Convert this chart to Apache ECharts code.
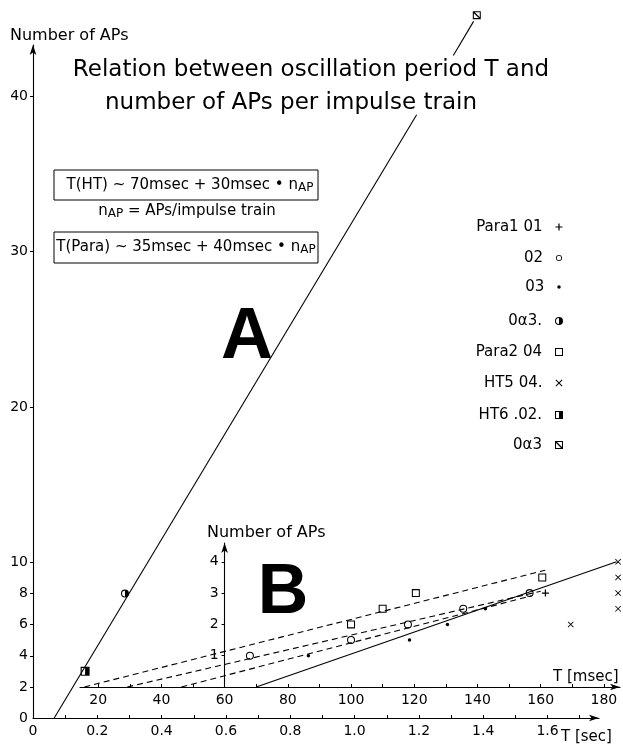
<!DOCTYPE html>
<html><head><meta charset="utf-8">
<script src="https://cdn.jsdelivr.net/npm/echarts@6/dist/echarts.min.js"></script>
<style>html,body{margin:0;padding:0;background:#fff}#c{width:623px;height:746px}</style>
</head><body><div id="c"></div>
<script>
// ---------------- data ----------------
const mainXLabels = [0, 0.2, 0.4, 0.6, 0.8, 1.0, 1.2, 1.4, 1.6];
const mainXTicks = [0.1, 0.2, 0.3, 0.4, 0.5, 0.6, 0.7, 0.8, 0.9, 1.0, 1.1, 1.2, 1.3, 1.4, 1.5, 1.6, 1.7];
const mainYLabels = [0, 2, 4, 6, 8, 10, 20, 30, 40];
const insetXLabels = [20, 40, 60, 80, 100, 120, 140, 160, 180];
const insetXTicks = [20, 30, 40, 50, 60, 70, 80, 90, 100, 110, 120, 130, 140, 150, 160, 170, 180];
const insetYLabels = [1, 2, 3, 4];

// panel A (T in sec, number of APs)
const lineALower = [[0.066, 0], [1.193, 38.8]];
const lineAUpper = [[1.307, 42.6], [1.37, 44.8]];
const oa3Half = [[0.286, 8]];
const ht6_02 = [[0.162, 3]];
const oa3Hatch = [[1.38, 45.2]];

// panel B (T in msec, number of APs)
const para1_01 = [[161.5, 3.0]];
const s02 = [[68, 1.0], [100, 1.5], [118, 2.0], [135.5, 2.5], [156.5, 3.0]];
const s03 = [[86.5, 1.0], [118.5, 1.5], [130.5, 2.0], [142.5, 2.5]];
const para2_04 = [[100, 2.0], [110, 2.5], [120.5, 3.0], [160.5, 3.5]];
const ht5_04 = [[169.5, 2.0], [184.5, 2.5], [184.5, 3.0], [184.5, 3.5], [184.5, 4.0]];
const dashTop = [[15.6, 0], [161.4, 3.73]];
const dashMid = [[29.2, 0], [160, 3.06]];
const dashLow = [[46.3, 0], [157, 2.91]];
const solidHT = [[70, 0], [184, 4.0]];

const legendNames = ['Para1 01', '02', '03', '0\u03b13.', 'Para2 04', 'HT5 04.', 'HT6 .02.', '0\u03b13'];

// ---------------- symbols ----------------
const RING = 'M0 -5A5 5 0 1 1 0 5A5 5 0 1 1 0 -5ZM0 -3.7A3.7 3.7 0 1 0 0 3.7A3.7 3.7 0 1 0 0 -3.7Z';
const SQR = 'M-5 -5H5V5H-5ZM-3.7 -3.7V3.7H3.7V-3.7Z';
const SYM = {
  plus: 'path://M-0.7 -4H0.7V-0.7H4V0.7H0.7V4H-0.7V0.7H-4V-0.7H-0.7Z',
  ring: 'path://' + RING,
  halfRing: 'path://' + RING + 'M0 -3.7A3.7 3.7 0 0 1 0 3.7Z',
  sqRing: 'path://' + SQR,
  halfSq: 'path://M-5 -5H5V5H-5ZM-3.7 -3.7V3.7H0V-3.7Z',
  hatchSq: 'path://' + SQR + 'M-3.7 -3.7H-2.5L3.7 2.5V3.7H2.5L-3.7 -2.5Z',
  cross: 'path://M-4 -5L0 -1L4 -5L5 -4L1 0L5 4L4 5L0 1L-4 5L-5 4L-1 0L-5 -4Z'
};

const FONT = 'DejaVu Sans';
const BLACK = '#000';

function lineSeries(data, xi, dashed) {
  return {
    type: 'line', xAxisIndex: xi, yAxisIndex: xi, data: data, showSymbol: false, symbol: 'none',
    clip: false, silent: true, z: 2,
    lineStyle: { color: BLACK, width: 1.1, type: dashed ? [6, 4] : 'solid' }
  };
}
function scatter(name, data, xi, symbol, size) {
  return {
    type: 'scatter', name: name, xAxisIndex: xi, yAxisIndex: xi, data: data, symbol: symbol,
    symbolSize: size, clip: false, z: 3, itemStyle: { color: BLACK, opacity: 1 }
  };
}

const legendTops = [227, 258, 287, 321, 352, 383, 415, 445];
const legendIcon = [7, 6, 3.5, 8, 8, 7, 8, 8];

const axisLineStyle = { color: BLACK, width: 1.1 };
const subRich = { fontSize: 12, fontFamily: FONT, fill: BLACK, verticalAlign: 'bottom', lineHeight: 12, padding: [8, 0, 0, 0] };
const mainRich = { fontSize: 15, fontFamily: FONT, fill: BLACK, verticalAlign: 'top', lineHeight: 16 };

const option = {
  animation: false,
  backgroundColor: '#fff',
  textStyle: { fontFamily: FONT, color: BLACK },
  grid: [
    { left: 33, right: 24, top: 45, bottom: 28 },
    { left: 80, right: 3, top: 543, bottom: 59 }
  ],
  xAxis: [
    {
      type: 'value', gridIndex: 0, min: 0, max: 1.76,
      axisLine: { show: true, symbol: ['none', 'arrow'], symbolSize: [5, 10], lineStyle: axisLineStyle },
      axisTick: { show: true, inside: true, length: 3, customValues: mainXTicks, lineStyle: { color: BLACK } },
      axisLabel: {
        show: true, customValues: mainXLabels, margin: 6, fontSize: 14, color: BLACK,
        formatter: v => (v === 0 ? '0' : v.toFixed(1))
      },
      splitLine: { show: false }
    },
    {
      type: 'value', gridIndex: 1, min: 14.24, max: 185.1,
      axisLine: { show: true, symbol: ['none', 'arrow'], symbolSize: [5, 10], lineStyle: axisLineStyle },
      axisTick: { show: true, inside: true, length: 3, customValues: insetXTicks, lineStyle: { color: BLACK } },
      axisLabel: { show: true, customValues: insetXLabels, margin: 6, fontSize: 14, color: BLACK },
      splitLine: { show: false }
    }
  ],
  yAxis: [
    {
      type: 'value', gridIndex: 0, min: 0, max: 43.28,
      axisLine: { show: true, symbol: ['none', 'arrow'], symbolSize: [5, 10], lineStyle: axisLineStyle },
      axisTick: { show: true, length: 3, customValues: mainYLabels.slice(1), lineStyle: { color: BLACK } },
      axisLabel: { show: true, customValues: mainYLabels, margin: 5, fontSize: 14, color: BLACK },
      splitLine: { show: false }
    },
    {
      type: 'value', gridIndex: 1, min: 0, max: 4.6, offset: -144.6,
      axisLine: { show: true, symbol: ['none', 'arrow'], symbolSize: [5, 10], lineStyle: axisLineStyle },
      axisTick: { show: true, length: 3, customValues: insetYLabels, lineStyle: { color: BLACK } },
      axisLabel: { show: true, customValues: insetYLabels, margin: 6, fontSize: 14, color: BLACK },
      splitLine: { show: false }
    }
  ],
  legend: legendNames.map((n, i) => ({
    data: [n], orient: 'vertical', align: 'right', selectedMode: false,
    top: legendTops[i] - 8, right: 623 - 559 - legendIcon[i] / 2,
    itemWidth: legendIcon[i], itemHeight: legendIcon[i], padding: 0, itemGap: 0,
    textStyle: { fontSize: 15, lineHeight: 16, color: BLACK, fontFamily: FONT, padding: [0, 8, 0, 0] }
  })),
  series: [
    lineSeries(lineALower, 0, false),
    lineSeries(lineAUpper, 0, false),
    lineSeries(dashTop, 1, true),
    lineSeries(dashMid, 1, true),
    lineSeries(dashLow, 1, true),
    lineSeries(solidHT, 1, false),
    scatter(legendNames[0], para1_01, 1, SYM.plus, 7),
    scatter(legendNames[1], s02, 1, SYM.ring, 8),
    scatter(legendNames[2], s03, 1, 'circle', 3.5),
    scatter(legendNames[3], oa3Half, 0, SYM.halfRing, 8),
    scatter(legendNames[4], para2_04, 1, SYM.sqRing, 8),
    scatter(legendNames[5], ht5_04, 1, SYM.cross, 6),
    scatter(legendNames[6], ht6_02, 0, SYM.halfSq, 9),
    scatter(legendNames[7], oa3Hatch, 0, SYM.hatchSq, 8)
  ],
  graphic: [
    { type: 'text', x: 10, y: 36, style: { text: 'Number of APs', fill: BLACK, font: '16px "DejaVu Sans"', align: 'left', verticalAlign: 'middle' } },
    { type: 'text', x: 311, y: 70, style: { text: 'Relation between oscillation period T and', fill: BLACK, font: '23px "DejaVu Sans"', align: 'center', verticalAlign: 'middle' } },
    { type: 'text', x: 291, y: 103, style: { text: 'number of APs per impulse train', fill: BLACK, font: '23px "DejaVu Sans"', align: 'center', verticalAlign: 'middle' } },
    { type: 'rect', shape: { x: 54, y: 170, width: 264, height: 30 }, style: { fill: 'none', stroke: BLACK, lineWidth: 1 } },
    { type: 'rect', shape: { x: 54, y: 232, width: 264, height: 31 }, style: { fill: 'none', stroke: BLACK, lineWidth: 1 } },
    { type: 'text', x: 190, y: 186, style: {
        text: '{t|T(HT) ~ 70msec + 30msec \u2022 n}{s|AP}', align: 'center', verticalAlign: 'middle',
        rich: { t: mainRich, s: subRich } } },
    { type: 'text', x: 187, y: 212, style: {
        text: '{t|n}{s|AP}{t| = APs/impulse train}', align: 'center', verticalAlign: 'middle',
        rich: { t: mainRich, s: subRich } } },
    { type: 'text', x: 186, y: 248, style: {
        text: '{t|T(Para) ~ 35msec + 40msec \u2022 n}{s|AP}', align: 'center', verticalAlign: 'middle',
        rich: { t: mainRich, s: subRich } } },
    { type: 'text', x: 247, y: 338, style: { text: 'A', fill: BLACK, font: 'bold 72px "Liberation Sans"', align: 'center', verticalAlign: 'middle' } },
    { type: 'text', x: 283, y: 594, style: { text: 'B', fill: BLACK, font: 'bold 70px "Liberation Sans"', align: 'center', verticalAlign: 'middle' } },
    { type: 'text', x: 207, y: 533, style: { text: 'Number of APs', fill: BLACK, font: '16px "DejaVu Sans"', align: 'left', verticalAlign: 'middle' } },
    { type: 'text', x: 553, y: 677, style: { text: 'T [msec]', fill: BLACK, font: '15px "DejaVu Sans"', align: 'left', verticalAlign: 'middle' } },
    { type: 'text', x: 561, y: 737, style: { text: 'T [sec]', fill: BLACK, font: '15px "DejaVu Sans"', align: 'left', verticalAlign: 'middle' } }
  ]
};

const chart = echarts.init(document.getElementById('c'), null, { renderer: 'canvas' });
chart.setOption(option);
</script></body></html>
